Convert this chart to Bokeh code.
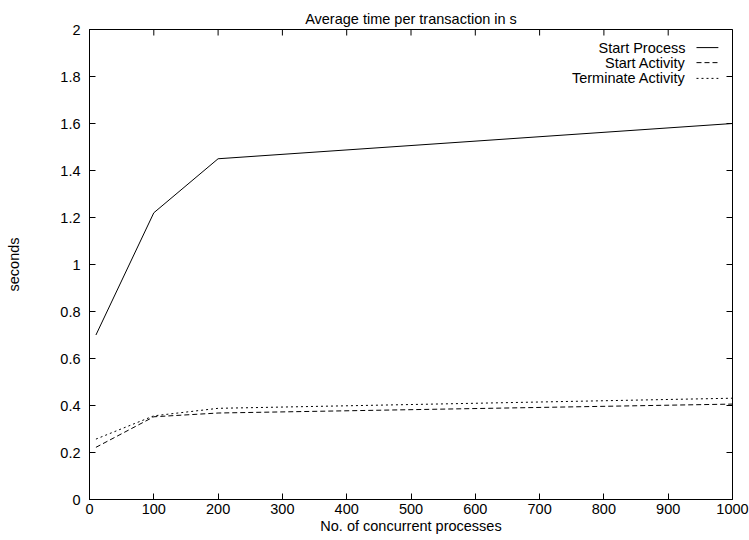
import math
from bokeh.plotting import figure
from bokeh.models import Range1d, FixedTicker, CustomJSTickFormatter, Label, BoxAnnotation
from bokeh.embed import file_html
from bokeh.resources import INLINE

# data
x_vals = [10, 100, 200, 1000]
start_process = [0.70, 1.22, 1.45, 1.60]
start_activity = [0.222, 0.352, 0.368, 0.406]
terminate_activity = [0.257, 0.356, 0.388, 0.431]

series_names = ["Start Process", "Start Activity", "Terminate Activity"]
x_ticks = list(range(0, 1001, 100))
y_ticks = [0, 0.2, 0.4, 0.6, 0.8, 1.0, 1.2, 1.4, 1.6, 1.8, 2.0]

FONT = "Liberation Sans"
FS = "14.5px"
X_MIN, X_MAX, Y_MIN, Y_MAX = 0, 1000, 0, 2

p = figure(width=749, height=540, output_backend="svg", toolbar_location=None,
           x_range=Range1d(X_MIN, X_MAX), y_range=Range1d(Y_MIN, Y_MAX),
           min_border_left=89, min_border_right=17, min_border_top=29, min_border_bottom=41,
           x_axis_label="No. of concurrent processes", y_axis_label="seconds")
p.title.text = "Average time per transaction in s"
p.title.align = "center"
p.title.text_font = FONT
p.title.text_font_size = FS
p.title.text_font_style = "normal"
p.title.text_color = "black"
p.title.offset = 0
p.title.standoff = 6

p.xgrid.visible = False
p.ygrid.visible = False
p.outline_line_color = "black"
p.outline_line_width = 1
p.outline_line_alpha = 1
p.background_fill_color = "white"
p.border_fill_color = "white"

# explicit frame (gnuplot border)
p.add_layout(BoxAnnotation(left=X_MIN, right=X_MAX, bottom=Y_MIN, top=Y_MAX,
                           fill_alpha=0, line_color="black", line_width=1, line_alpha=1,
                           level="overlay", editable=False))

fmt = CustomJSTickFormatter(code="var s = tick.toFixed(1); return s.endsWith('.0') ? s.slice(0, -2) : s;")

for ax, ticks in ((p.xaxis[0], x_ticks), (p.yaxis[0], y_ticks)):
    ax.ticker = FixedTicker(ticks=ticks)
    ax.major_tick_in = 6
    ax.major_tick_out = 0
    ax.minor_tick_line_color = None
    ax.axis_line_color = "black"
    ax.axis_line_width = 1
    ax.major_tick_line_color = "black"
    ax.major_label_text_font = FONT
    ax.major_label_text_font_size = FS
    ax.major_label_text_color = "black"
    ax.axis_label_text_font = FONT
    ax.axis_label_text_font_size = FS
    ax.axis_label_text_font_style = "normal"
    ax.axis_label_text_color = "black"

p.xaxis[0].major_label_standoff = 4
p.xaxis[0].axis_label_standoff = 1
p.yaxis[0].major_label_standoff = 9
p.yaxis[0].axis_label_standoff = 35
p.yaxis[0].formatter = fmt

# mirrored inward ticks on top and right edges
p.ray(x=x_ticks, y=[Y_MAX] * len(x_ticks), length=6, length_units="screen",
      angle=-math.pi / 2, line_color="black", line_width=1)
p.ray(x=[X_MAX] * len(y_ticks), y=y_ticks, length=6, length_units="screen",
      angle=math.pi, line_color="black", line_width=1)

p.line(x_vals, start_process, line_color="black", line_width=1)
p.line(x_vals, start_activity, line_color="black", line_width=1, line_dash="5 3")
p.line(x_vals, terminate_activity, line_color="black", line_width=1, line_dash="2 3")

# key (gnuplot style: label right-aligned, sample to the right)
key_y = [1.923, 1.859, 1.792]
key_dash = ["solid", "5 3", "2 3"]
for name, ky, dash in zip(series_names, key_y, key_dash):
    p.add_layout(Label(x=927, y=ky, text=name, text_font=FONT, text_font_size=FS,
                       text_align="right", text_baseline="middle", text_color="black"))
    p.line([944, 978], [ky, ky], line_color="black", line_width=1, line_dash=dash)

open("out.html", "w").write(file_html(p, INLINE))
